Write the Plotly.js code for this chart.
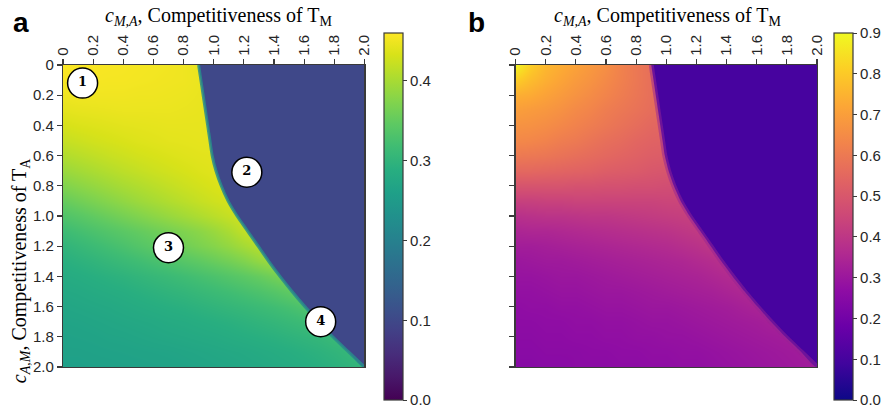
<!DOCTYPE html>
<html>
<head>
<meta charset="utf-8">
<script src="https://cdn.plot.ly/plotly-3.0.1.min.js"></script>
<style>
  html, body { margin: 0; padding: 0; background: #ffffff; }
  #chart { width: 894px; height: 410px; }
</style>
</head>
<body>
<div id="chart"></div>
<script>
// ---------- DATA ----------
// grid coordinates: c_{M,A} (x) and c_{A,M} (y)
const gridX = [0,0.1,0.2,0.3,0.4,0.5,0.6,0.7,0.8,0.9,1.0,1.1,1.2,1.3,1.4,1.5,1.6,1.7,1.8,1.9,2.0];
const gridY = [0,0.1,0.2,0.3,0.4,0.5,0.6,0.7,0.8,0.9,1.0,1.1,1.2,1.3,1.4,1.5,1.6,1.7,1.8,1.9,2.0];

// panel a field (rows = gridY, columns = gridX)
const fieldA = [
  [0.458,0.458,0.457,0.456,0.455,0.454,0.453,0.452,0.450,0.445,0.445,0.1,0.1,0.1,0.1,0.1,0.1,0.1,0.1,0.1,0.1],
  [0.456,0.456,0.455,0.454,0.454,0.453,0.452,0.451,0.450,0.447,0.445,0.1,0.1,0.1,0.1,0.1,0.1,0.1,0.1,0.1,0.1],
  [0.450,0.451,0.451,0.451,0.451,0.450,0.450,0.449,0.448,0.446,0.444,0.1,0.1,0.1,0.1,0.1,0.1,0.1,0.1,0.1,0.1],
  [0.442,0.444,0.445,0.446,0.447,0.447,0.447,0.447,0.446,0.445,0.443,0.1,0.1,0.1,0.1,0.1,0.1,0.1,0.1,0.1,0.1],
  [0.432,0.435,0.437,0.439,0.441,0.442,0.443,0.444,0.444,0.444,0.442,0.1,0.1,0.1,0.1,0.1,0.1,0.1,0.1,0.1,0.1],
  [0.420,0.424,0.428,0.431,0.434,0.437,0.439,0.441,0.442,0.443,0.442,0.1,0.1,0.1,0.1,0.1,0.1,0.1,0.1,0.1,0.1],
  [0.406,0.411,0.416,0.421,0.425,0.429,0.432,0.435,0.438,0.440,0.441,0.441,0.1,0.1,0.1,0.1,0.1,0.1,0.1,0.1,0.1],
  [0.390,0.396,0.402,0.408,0.414,0.419,0.424,0.428,0.432,0.436,0.439,0.440,0.1,0.1,0.1,0.1,0.1,0.1,0.1,0.1,0.1],
  [0.372,0.379,0.386,0.393,0.400,0.406,0.412,0.418,0.424,0.429,0.434,0.437,0.1,0.1,0.1,0.1,0.1,0.1,0.1,0.1,0.1],
  [0.352,0.360,0.368,0.376,0.384,0.392,0.399,0.406,0.413,0.420,0.426,0.431,0.432,0.1,0.1,0.1,0.1,0.1,0.1,0.1,0.1],
  [0.333,0.340,0.348,0.356,0.364,0.372,0.380,0.388,0.396,0.404,0.412,0.420,0.428,0.428,0.1,0.1,0.1,0.1,0.1,0.1,0.1],
  [0.315,0.322,0.329,0.336,0.343,0.350,0.357,0.364,0.372,0.380,0.390,0.402,0.418,0.425,0.1,0.1,0.1,0.1,0.1,0.1,0.1],
  [0.300,0.307,0.314,0.321,0.328,0.336,0.344,0.352,0.360,0.368,0.376,0.386,0.398,0.410,0.410,0.1,0.1,0.1,0.1,0.1,0.1],
  [0.290,0.295,0.300,0.306,0.312,0.318,0.325,0.332,0.339,0.346,0.354,0.362,0.372,0.385,0.395,0.395,0.1,0.1,0.1,0.1,0.1],
  [0.282,0.285,0.289,0.293,0.297,0.302,0.307,0.312,0.318,0.324,0.330,0.337,0.344,0.352,0.362,0.372,0.372,0.1,0.1,0.1,0.1],
  [0.276,0.278,0.281,0.284,0.287,0.291,0.295,0.299,0.303,0.308,0.313,0.318,0.324,0.330,0.337,0.346,0.355,0.355,0.1,0.1,0.1],
  [0.271,0.273,0.275,0.277,0.280,0.283,0.286,0.289,0.292,0.296,0.300,0.304,0.308,0.313,0.318,0.324,0.332,0.340,0.1,0.1,0.1],
  [0.267,0.268,0.270,0.272,0.274,0.276,0.278,0.281,0.283,0.286,0.289,0.292,0.296,0.300,0.304,0.309,0.314,0.322,0.322,0.1,0.1],
  [0.264,0.265,0.266,0.268,0.269,0.271,0.273,0.275,0.277,0.279,0.281,0.284,0.287,0.290,0.293,0.297,0.301,0.305,0.312,0.312,0.1],
  [0.262,0.262,0.263,0.264,0.265,0.266,0.267,0.268,0.270,0.272,0.274,0.276,0.278,0.281,0.284,0.287,0.291,0.295,0.300,0.306,0.306],
  [0.260,0.260,0.261,0.261,0.262,0.263,0.264,0.265,0.266,0.268,0.270,0.272,0.274,0.276,0.279,0.282,0.285,0.289,0.293,0.298,0.304]
];

// panel b field (rows = gridY, columns = gridX)
const fieldB = [
  [0.89,0.81,0.76,0.735,0.71,0.685,0.66,0.625,0.595,0.57,0.57,0.1,0.1,0.1,0.1,0.1,0.1,0.1,0.1,0.1,0.1],
  [0.81,0.77,0.74,0.715,0.69,0.67,0.645,0.62,0.595,0.57,0.565,0.1,0.1,0.1,0.1,0.1,0.1,0.1,0.1,0.1,0.1],
  [0.74,0.73,0.71,0.69,0.67,0.65,0.63,0.61,0.59,0.57,0.565,0.1,0.1,0.1,0.1,0.1,0.1,0.1,0.1,0.1,0.1],
  [0.70,0.69,0.68,0.665,0.645,0.63,0.61,0.595,0.58,0.565,0.555,0.1,0.1,0.1,0.1,0.1,0.1,0.1,0.1,0.1,0.1],
  [0.67,0.665,0.655,0.64,0.625,0.61,0.595,0.58,0.565,0.55,0.545,0.1,0.1,0.1,0.1,0.1,0.1,0.1,0.1,0.1,0.1],
  [0.64,0.635,0.625,0.61,0.60,0.585,0.57,0.56,0.545,0.535,0.53,0.1,0.1,0.1,0.1,0.1,0.1,0.1,0.1,0.1,0.1],
  [0.60,0.595,0.59,0.58,0.57,0.56,0.55,0.54,0.53,0.52,0.515,0.515,0.1,0.1,0.1,0.1,0.1,0.1,0.1,0.1,0.1],
  [0.55,0.55,0.545,0.54,0.535,0.53,0.52,0.515,0.51,0.50,0.495,0.49,0.1,0.1,0.1,0.1,0.1,0.1,0.1,0.1,0.1],
  [0.49,0.49,0.49,0.49,0.485,0.485,0.48,0.48,0.475,0.475,0.47,0.465,0.1,0.1,0.1,0.1,0.1,0.1,0.1,0.1,0.1],
  [0.43,0.43,0.435,0.435,0.44,0.44,0.44,0.44,0.44,0.44,0.445,0.445,0.445,0.1,0.1,0.1,0.1,0.1,0.1,0.1,0.1],
  [0.38,0.385,0.39,0.39,0.395,0.40,0.40,0.405,0.41,0.415,0.42,0.425,0.43,0.43,0.1,0.1,0.1,0.1,0.1,0.1,0.1],
  [0.345,0.35,0.35,0.355,0.36,0.365,0.37,0.375,0.38,0.385,0.39,0.40,0.41,0.42,0.1,0.1,0.1,0.1,0.1,0.1,0.1],
  [0.32,0.32,0.325,0.33,0.335,0.34,0.345,0.35,0.355,0.36,0.365,0.375,0.385,0.40,0.40,0.1,0.1,0.1,0.1,0.1,0.1],
  [0.30,0.305,0.31,0.31,0.315,0.32,0.325,0.33,0.335,0.34,0.345,0.35,0.36,0.37,0.385,0.385,0.1,0.1,0.1,0.1,0.1],
  [0.29,0.29,0.295,0.30,0.30,0.305,0.31,0.315,0.32,0.325,0.33,0.335,0.34,0.35,0.36,0.37,0.37,0.1,0.1,0.1,0.1],
  [0.28,0.28,0.285,0.29,0.29,0.295,0.30,0.30,0.305,0.31,0.315,0.32,0.325,0.33,0.34,0.35,0.36,0.36,0.1,0.1,0.1],
  [0.27,0.275,0.275,0.28,0.28,0.285,0.29,0.29,0.295,0.30,0.30,0.305,0.31,0.315,0.32,0.33,0.34,0.35,0.1,0.1,0.1],
  [0.265,0.265,0.27,0.27,0.275,0.275,0.28,0.28,0.285,0.29,0.29,0.295,0.30,0.305,0.31,0.315,0.32,0.33,0.33,0.1,0.1],
  [0.26,0.26,0.265,0.265,0.27,0.27,0.275,0.275,0.28,0.28,0.285,0.285,0.29,0.295,0.30,0.305,0.31,0.315,0.32,0.32,0.1],
  [0.255,0.255,0.26,0.26,0.26,0.265,0.265,0.27,0.27,0.275,0.275,0.28,0.28,0.285,0.29,0.295,0.30,0.305,0.31,0.315,0.315],
  [0.25,0.25,0.255,0.255,0.26,0.26,0.26,0.265,0.265,0.27,0.27,0.275,0.275,0.28,0.285,0.29,0.295,0.30,0.305,0.31,0.315]
];

// phase boundary: for each c_{A,M} (boundaryY) the c_{M,A} (boundaryX) where region 2 starts
const boundaryY = [0,0.1,0.2,0.3,0.4,0.5,0.6,0.7,0.8,0.9,1.0,1.1,1.2,1.3,1.4,1.5,1.6,1.7,1.8,1.9,2.0];
const boundaryX = [0.90,0.915,0.93,0.945,0.96,0.975,0.99,1.015,1.05,1.095,1.155,1.225,1.295,1.365,1.44,1.52,1.605,1.695,1.79,1.895,2.0];

// colour-bar ranges
const zMaxA = 0.46;
const zMaxB = 0.9;
const cbTicksA = [0, 0.1, 0.2, 0.3, 0.4];
const cbTicksB = [0, 0.1, 0.2, 0.3, 0.4, 0.5, 0.6, 0.7, 0.8, 0.9];

// axis ticks
const axisTickVals = [0, 0.2, 0.4, 0.6, 0.8, 1.0, 1.2, 1.4, 1.6, 1.8, 2.0];
const axisTickText = ["0", "0.2", "0.4", "0.6", "0.8", "1.0", "1.2", "1.4", "1.6", "1.8", "2.0"];
const axisRange = [0, 2];

// numbered regions in panel a
const regionLabels = ["1", "2", "3", "4"];
const regionX = [0.13, 1.22, 0.70, 1.71];
const regionY = [0.12, 0.71, 1.21, 1.70];

// ---------- STYLE ----------
const plasma = [
  [0.0, '#0d0887'], [0.1, '#41049d'], [0.2, '#6a00a8'], [0.3, '#8f0da4'],
  [0.4, '#b12a90'], [0.5, '#cc4778'], [0.6, '#e16462'], [0.7, '#f2844b'],
  [0.8, '#fca636'], [0.9, '#fcce25'], [1.0, '#f0f921']
];
const axisColor = '#3a3a3a';
const tickFont = { family: 'Liberation Sans, Arial, sans-serif', size: 15, color: '#262626' };
const serif = 'Liberation Serif, Times New Roman, serif';

// polygon for region 2 : along the boundary, then to the top-right corner
const polyX = boundaryX.concat([axisRange[1]]);
const polyY = boundaryY.concat([axisRange[0]]);

function cb(x, ticks) {
  return {
    x: x, xanchor: 'left', xpad: 0,
    y: 0.498, yanchor: 'middle', ypad: 0,
    len: 367, lenmode: 'pixels',
    thickness: 19, thicknessmode: 'pixels',
    outlinewidth: 1.2, outlinecolor: axisColor,
    ticks: 'outside', ticklen: 4, tickcolor: axisColor,
    tickvals: ticks, tickformat: '.1f',
    tickfont: tickFont
  };
}

const traces = [
  {
    type: 'heatmap', x: gridX, y: gridY, z: fieldA, zsmooth: 'best',
    colorscale: 'Viridis', zmin: 0, zmax: zMaxA,
    colorbar: cb(0.4261, cbTicksA),
    xaxis: 'x', yaxis: 'y', hoverinfo: 'skip'
  },
  {
    type: 'scatter', x: polyX, y: polyY, mode: 'lines', fill: 'toself',
    fillcolor: '#3f4889', line: { width: 0, color: '#3f4889', shape: 'spline', smoothing: 0.6 },
    xaxis: 'x', yaxis: 'y', hoverinfo: 'skip', showlegend: false
  },
  {
    type: 'scatter', x: boundaryX, y: boundaryY, mode: 'lines',
    line: { width: 3, color: 'rgba(40,140,140,0.85)', shape: 'spline', smoothing: 0.6 },
    xaxis: 'x', yaxis: 'y', hoverinfo: 'skip', showlegend: false
  },
  {
    type: 'heatmap', x: gridX, y: gridY, z: fieldB, zsmooth: 'best',
    colorscale: plasma, zmin: 0, zmax: zMaxB,
    colorbar: cb(1.0224, cbTicksB),
    xaxis: 'x2', yaxis: 'y2', hoverinfo: 'skip'
  },
  {
    type: 'scatter', x: polyX, y: polyY, mode: 'lines', fill: 'toself',
    fillcolor: '#47039f', line: { width: 0, color: '#47039f', shape: 'spline', smoothing: 0.6 },
    xaxis: 'x2', yaxis: 'y2', hoverinfo: 'skip', showlegend: false
  },
  {
    type: 'scatter', x: boundaryX, y: boundaryY, mode: 'lines',
    line: { width: 5, color: 'rgba(150,35,150,0.5)', shape: 'spline', smoothing: 0.6 },
    xaxis: 'x2', yaxis: 'y2', hoverinfo: 'skip', showlegend: false
  },
  {
    type: 'scatter', x: regionX, y: regionY, text: regionLabels,
    mode: 'markers+text', textposition: 'middle center',
    marker: { size: 30, color: '#ffffff', line: { width: 1.5, color: '#000000' } },
    textfont: { family: 'DejaVu Serif, serif', size: 13, color: '#000000', weight: 'bold' },
    xaxis: 'x', yaxis: 'y', hoverinfo: 'skip', showlegend: false, cliponaxis: false
  }
];

function xAxis(domain, anchor) {
  return {
    domain: domain, anchor: anchor, side: 'top', range: axisRange,
    showgrid: false, zeroline: false,
    showline: true, mirror: true, linecolor: axisColor, linewidth: 1.2,
    ticks: 'outside', ticklen: 5, tickcolor: axisColor, tickwidth: 1.2,
    tickvals: axisTickVals, ticktext: axisTickText, tickangle: -90,
    tickfont: tickFont
  };
}
function yAxis(anchor, showLabels) {
  return {
    domain: [0, 1], anchor: anchor, range: [axisRange[1], axisRange[0]],
    showgrid: false, zeroline: false,
    showline: true, mirror: true, linecolor: axisColor, linewidth: 1.2,
    ticks: 'outside', ticklen: 5, tickcolor: axisColor, tickwidth: 1.2,
    tickvals: axisTickVals, ticktext: axisTickText, showticklabels: showLabels,
    tickfont: tickFont
  };
}

const titleFont = { family: serif, size: 20, color: '#000000' };
const xTitle = '<i>c</i><sub><i>M,A</i></sub>, Competitiveness of T<sub>M</sub>';
const yTitle = '<i>c</i><sub><i>A,M</i></sub>, Competitiveness of T<sub>A</sub>';

const layout = {
  width: 894, height: 410,
  margin: { l: 63, r: 73, t: 65, b: 43 },
  paper_bgcolor: '#ffffff', plot_bgcolor: '#ffffff',
  showlegend: false,
  xaxis: xAxis([0, 0.3997], 'y'),
  yaxis: yAxis('x', true),
  xaxis2: xAxis([0.6003, 1], 'y2'),
  yaxis2: yAxis('x2', false),
  annotations: [
    { text: '<b>a</b>', xref: 'paper', yref: 'paper', x: -0.0554, y: 1.142,
      xanchor: 'center', yanchor: 'middle', showarrow: false,
      font: { family: 'Liberation Sans, Arial, sans-serif', size: 28, color: '#000' } },
    { text: '<b>b</b>', xref: 'paper', yref: 'paper', x: 0.549, y: 1.142,
      xanchor: 'center', yanchor: 'middle', showarrow: false,
      font: { family: 'Liberation Sans, Arial, sans-serif', size: 28, color: '#000' } },
    { text: xTitle, xref: 'paper', yref: 'paper', x: 0.2058, y: 1.159,
      xanchor: 'center', yanchor: 'middle', showarrow: false, font: titleFont },
    { text: xTitle, xref: 'paper', yref: 'paper', x: 0.8021, y: 1.159,
      xanchor: 'center', yanchor: 'middle', showarrow: false, font: titleFont },
    { text: yTitle, xref: 'paper', yref: 'paper', x: -0.0554, y: 0.318,
      xanchor: 'center', yanchor: 'middle', textangle: -90, showarrow: false, font: titleFont }
  ]
};

Plotly.newPlot('chart', traces, layout, { staticPlot: true, displayModeBar: false });
</script>
</body>
</html>
